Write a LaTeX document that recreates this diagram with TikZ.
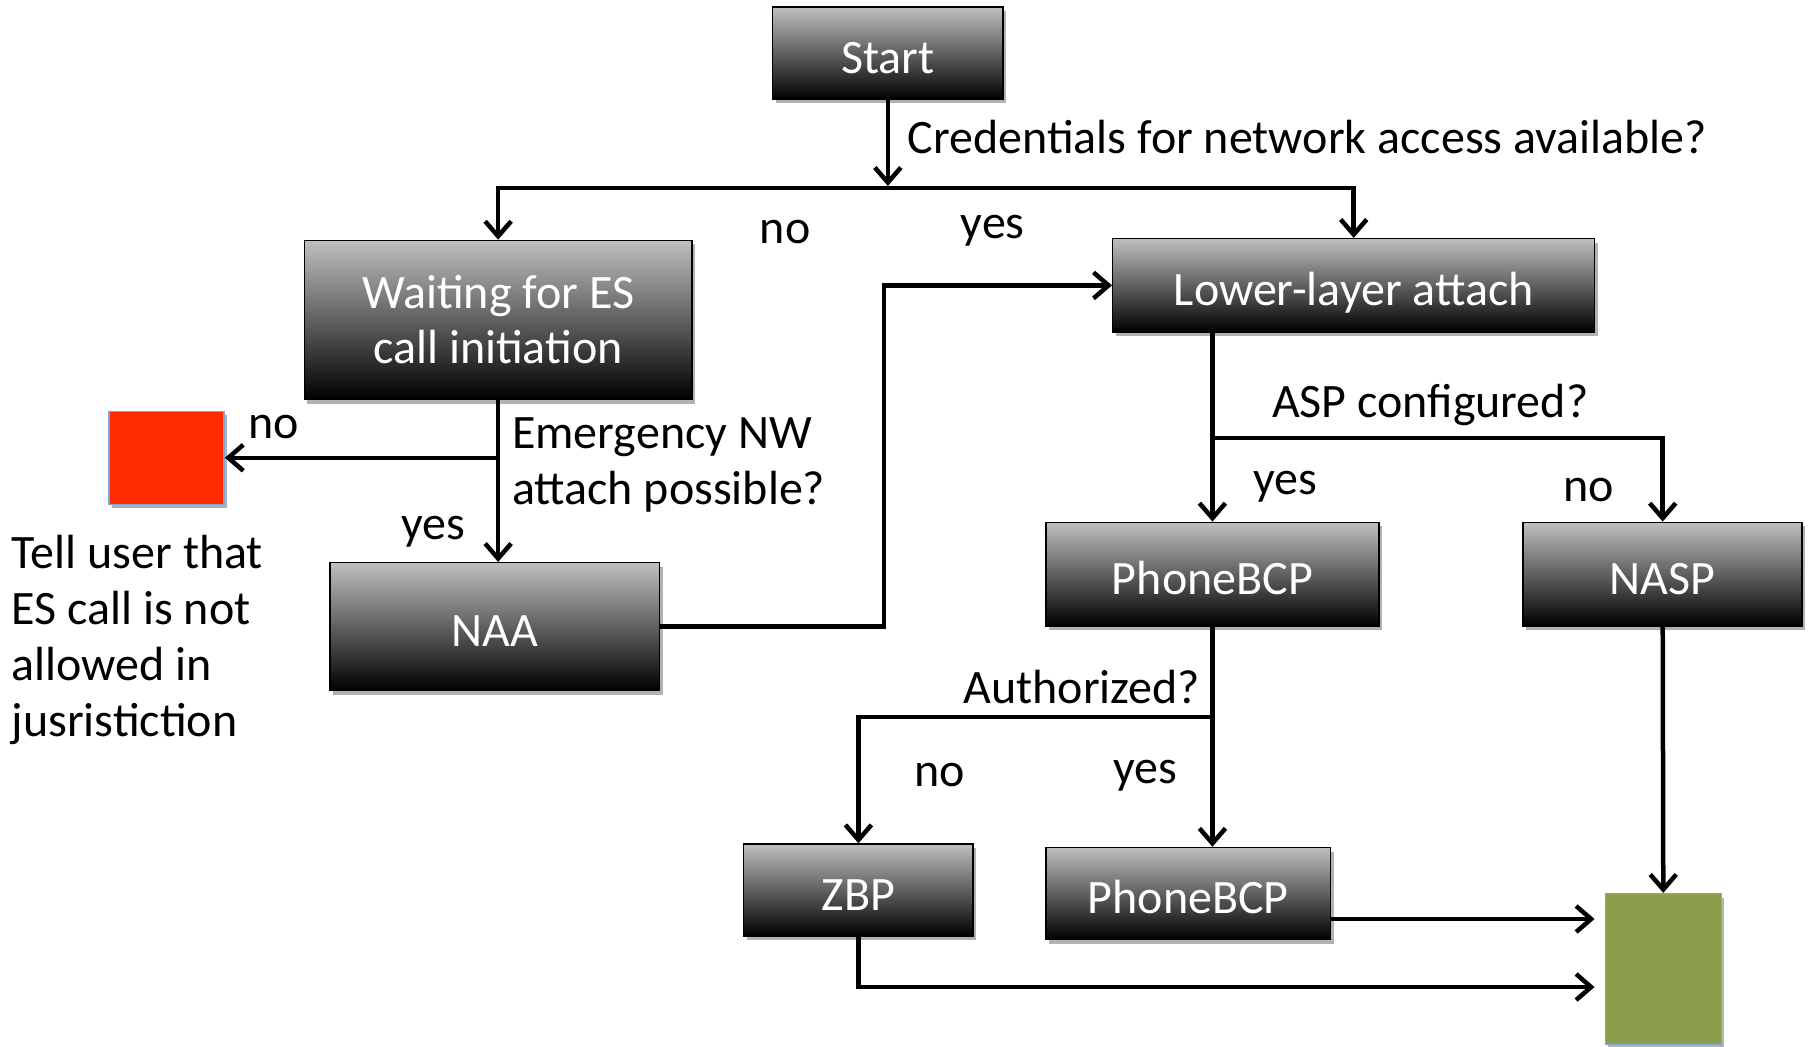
\documentclass[tikz,border=0pt]{standalone}
\usepackage{fontspec}
\setmainfont{Carlito}
\usetikzlibrary{arrows.meta,shadows}
\definecolor{redbox}{HTML}{FF2A00}
\definecolor{greenbox}{HTML}{8A9E4B}
\definecolor{edgeblue}{HTML}{7EA6D8}
\begin{document}
\begin{tikzpicture}[x=1.1531pt,y=-1.1531pt,
  boxbase/.style={draw=black, line width=1.5pt, top color=gray!50, bottom color=black, text=white,
    inner sep=0pt, font=\fontsize{48}{55}\selectfont,
    drop shadow={shadow xshift=3pt,shadow yshift=-4pt,opacity=0.3,fill=black}},
  box/.style={boxbase, align=center},
  onebox/.style={boxbase, text height=40pt, text depth=0pt},
  term/.style={draw=edgeblue, line width=1.5pt, inner sep=0pt,
    drop shadow={shadow xshift=3pt,shadow yshift=-4pt,opacity=0.3,fill=black}},
  lbl/.style={font=\fontsize{48}{56}\selectfont, inner sep=0pt, text=black},
  arr/.style={line width=4.5pt, -{Straight Barb[length=15pt,width=26pt]}},
  ln/.style={line width=4.5pt}
]
\useasboundingbox (0,0) rectangle (1568,908);
% boxes
\node[onebox, minimum width=230.6pt, minimum height=92.2pt] (start) at (770,46) {Start};
\node[box, minimum width=387.4pt, minimum height=159.1pt] (wait) at (432,277.5) {Waiting for ES\\call initiation};
\node[onebox, minimum width=482pt, minimum height=93.4pt] (lower) at (1174,247.5) {Lower-layer attach};
\node[onebox, minimum width=329.8pt, minimum height=128pt] (naa) at (429,543.5) {NAA};
\node[onebox, minimum width=333.2pt, minimum height=103.8pt] (phone1) at (1051.5,498) {PhoneBCP};
\node[onebox, minimum width=279pt, minimum height=103.8pt] (nasp) at (1442,498) {NASP};
\node[onebox, minimum width=229.5pt, minimum height=92.2pt] (zbp) at (744.5,772) {ZBP};
\node[onebox, minimum width=284.8pt, minimum height=92.2pt] (phone2) at (1030.5,775) {PhoneBCP};
\node[term, fill=redbox, minimum width=115pt, minimum height=93pt] (red) at (144.5,397) {};
\node[term, fill=greenbox, minimum width=116pt, minimum height=151pt] (green) at (1442.5,840.5) {};
% labels
\node[lbl, anchor=west] (q1) at (787,119) {Credentials for network access available?};
\node[lbl] (n1) at (681,201) {no};
\node[lbl] (y1) at (861,200) {yes};
\node[lbl, align=left, anchor=west] (q2) at (444,403) {Emergency NW\\attach possible?};
\node[lbl] (n2) at (237,370) {no};
\node[lbl] (y2) at (376,461) {yes};
\node[lbl, align=left, anchor=north west] (tell) at (10,464) {Tell user that\\ES call is not\\allowed in\\jusristiction};
\node[lbl, anchor=west] (q3) at (1103,351) {ASP configured?};
\node[lbl] (y3) at (1115,422) {yes};
\node[lbl] (n3) at (1378,425) {no};
\node[lbl, anchor=east] (q4) at (1041,596) {Authorized?};
\node[lbl] (n4) at (815,672) {no};
\node[lbl] (y4) at (993,673) {yes};
% connectors
\coordinate (j1) at (770,163);
\draw[arr, shorten >=2pt] (start.south) -- (j1);
\draw[arr] (j1) -| (wait.north);
\draw[arr] (j1) -| (lower.north);
\coordinate (j2) at (wait.south |- 0,397);
\draw[arr] (wait.south) -- (wait.south |- naa.north);
\draw[arr] (j2) -- (red.east);
\draw[arr] (naa.east) -- ++(194,0) |- (lower.west);
\draw[arr] (phone1.north |- lower.south) -- (phone1.north);
\coordinate (j3) at (phone1.north |- 0,380);
\draw[arr] (j3) -| (nasp.north);
\draw[arr] (phone1.south) -- (phone1.south |- phone2.north);
\coordinate (j4) at (phone1.south |- 0,622);
\draw[arr] (j4) -| (zbp.north);
\draw[arr, shorten >=10pt] (phone2.east |- 0,797) -- (green.west |- 0,797);
\draw[arr, shorten >=10pt] (zbp.south) |- (green.west |- 0,856);
\draw[arr] (nasp.south) -- (green.north);
\end{tikzpicture}
\end{document}
